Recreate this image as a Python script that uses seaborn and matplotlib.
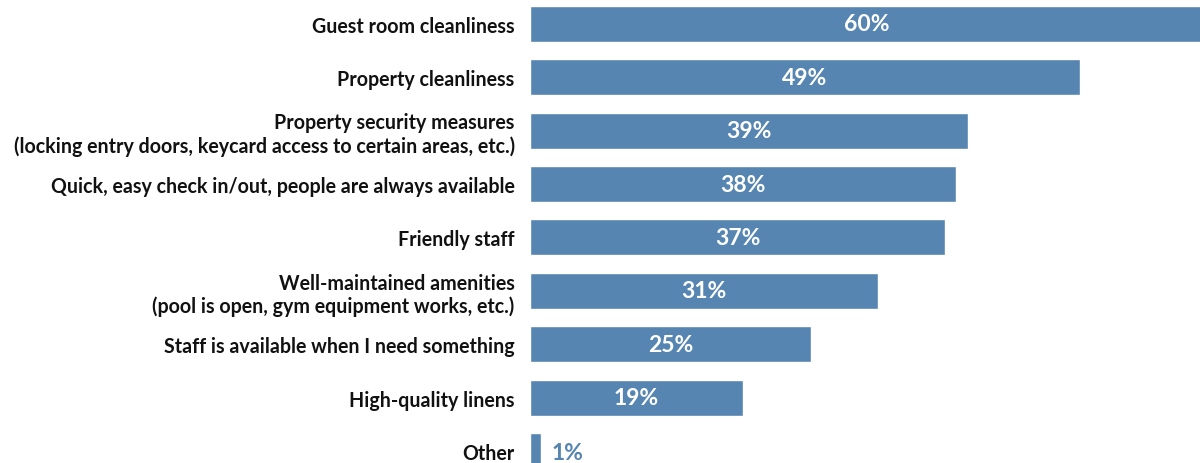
import matplotlib
matplotlib.use("Agg")
import matplotlib.pyplot as plt
import seaborn as sns
import pandas as pd

categories = [
    "Guest room cleanliness",
    "Property cleanliness",
    "Property security measures\n(locking entry doors, keycard access to certain areas, etc.)",
    "Quick, easy check in/out, people are always available",
    "Friendly staff",
    "Well-maintained amenities\n(pool is open, gym equipment works, etc.)",
    "Staff is available when I need something",
    "High-quality linens",
    "Other",
]
values = [60, 49, 39, 38, 37, 31, 25, 19, 1]
value_labels = ["60%", "49%", "39%", "38%", "37%", "31%", "25%", "19%", "1%"]

BAR = "#5585B0"

sns.set_theme(style="white")
plt.rcParams["font.family"] = ["Lato", "DejaVu Sans"]

df = pd.DataFrame({"cat": categories, "val": values})

fig = plt.figure(figsize=(12, 4.64), dpi=100)
ax = fig.add_axes([530 / 1200, 0, 670 / 1200, 1])
sns.barplot(data=df, x="val", y="cat", color=BAR, saturation=1, width=0.674, ax=ax, orient="h")

ax.set_xlim(0, 59.7)
ax.set_ylim(8.225, -0.468)
ax.set_xlabel("")
ax.set_ylabel("")
ax.set_xticks([])
for s in ax.spines.values():
    s.set_visible(False)
ax.tick_params(axis="y", length=0, pad=11)
for t in ax.get_yticklabels():
    t.set_fontsize(14.1)
    t.set_fontweight("bold")
    t.set_color("#111111")
    t.set_horizontalalignment("right")
    t.set_multialignment("right")
    t.set_linespacing(1.2)

for i, (v, lab) in enumerate(zip(values, value_labels)):
    if v >= 5:
        ax.text(v / 2, i, lab, ha="center", va="center", color="white",
                fontsize=16.5, fontweight="bold")
    else:
        ax.text(v + 0.9, i + 0.02, lab, ha="left", va="center", color=BAR,
                fontsize=16.5, fontweight="bold")

fig.savefig("out.png", dpi=100)
